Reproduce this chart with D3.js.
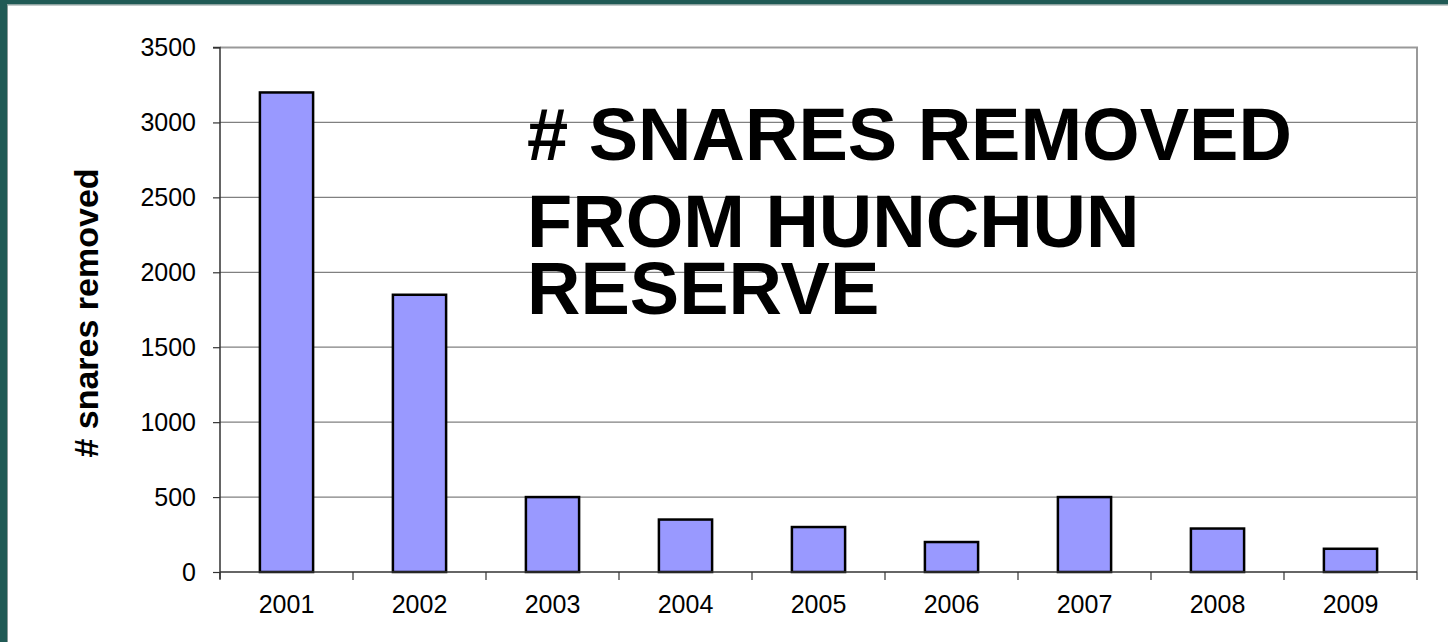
<!DOCTYPE html>
<html>
<head>
<meta charset="utf-8">
<script src="https://cdn.jsdelivr.net/npm/d3@7"></script>
<style>
html,body{margin:0;padding:0;background:#fff;}
svg{display:block;}
</style>
</head>
<body>
<script>
const years = ["2001","2002","2003","2004","2005","2006","2007","2008","2009"];
const snares = [3200, 1850, 500, 350, 300, 200, 500, 290, 155];
const yTicks = [0, 500, 1000, 1500, 2000, 2500, 3000, 3500];
const titleLines = ["# SNARES REMOVED", "FROM HUNCHUN", "RESERVE"];
const yTitle = "# snares removed";

const W = 1448, H = 642;
const svg = d3.select("body").append("svg").attr("width", W).attr("height", H);

// slide frame
svg.append("rect").attr("x",0).attr("y",0).attr("width",W).attr("height",H).attr("fill","#fff");
svg.append("rect").attr("x",0).attr("y",0).attr("width",W).attr("height",4.5).attr("fill","#205a55");
svg.append("rect").attr("x",0).attr("y",0).attr("width",7).attr("height",H).attr("fill","#205a55");
svg.append("line").attr("x1",7).attr("x2",W).attr("y1",5).attr("y2",5).attr("stroke","#8a9a98").attr("stroke-width",1);
svg.append("line").attr("x1",7.5).attr("x2",7.5).attr("y1",5).attr("y2",H).attr("stroke","#8a9a98").attr("stroke-width",1);

const pLeft = 220, pRight = 1417, pTop = 47.5, pBottom = 572;
const x = d3.scaleBand().domain(years).range([pLeft, pRight]).paddingInner(0.6).paddingOuter(0.3);
const xTick = d3.scaleBand().domain(years).range([pLeft, pRight]);
const y = d3.scaleLinear().domain([0, 3500]).range([pBottom, pTop]);
const FONT = "'Liberation Sans', Arial, sans-serif";

// gridlines
svg.append("g").selectAll("line").data(yTicks.filter(d => d > 0 && d < 3500)).join("line")
  .attr("x1", pLeft).attr("x2", pRight).attr("y1", d => y(d)).attr("y2", d => y(d))
  .attr("stroke", "#808080").attr("stroke-width", 1.2);

// plot border top & right
svg.append("path").attr("d", `M${pLeft},${pTop}H${pRight}V${pBottom}`)
  .attr("fill","none").attr("stroke","#999").attr("stroke-width",2);

// bars
svg.append("g").selectAll("rect").data(snares).join("rect")
  .attr("x", (d,i) => x(years[i]))
  .attr("width", x.bandwidth())
  .attr("y", d => y(d))
  .attr("height", d => pBottom - y(d))
  .attr("fill", "#9999ff").attr("stroke", "#000").attr("stroke-width", 2.5);

// y axis
const yAxis = d3.axisLeft(y).tickValues(yTicks).tickSize(7).tickPadding(17).tickFormat(d3.format("d"));
const gy = svg.append("g").attr("transform", `translate(${pLeft},0)`).call(yAxis);
gy.select(".domain").attr("stroke","#333").attr("stroke-width",1.5).attr("d", `M-7,${pTop}H0V${pBottom + 7}`);
gy.selectAll(".tick line").attr("stroke","#333").attr("stroke-width",1.2);
gy.selectAll(".tick text").attr("font-family",FONT).attr("font-size",25).attr("fill","#000");

// x axis
const gx = svg.append("g").attr("transform", `translate(0,${pBottom})`);
gx.append("line").attr("x1", pLeft).attr("x2", pRight).attr("y1",0).attr("y2",0).attr("stroke","#333").attr("stroke-width",1.5);
gx.selectAll("line.tk").data(years.concat(["end"])).join("line").attr("class","tk")
  .attr("x1", (d,i) => i < years.length ? xTick(d) : pRight)
  .attr("x2", (d,i) => i < years.length ? xTick(d) : pRight)
  .attr("y1", 0).attr("y2", 8).attr("stroke","#333").attr("stroke-width",1.2);
gx.selectAll("text").data(years).join("text")
  .attr("x", d => xTick(d) + xTick.bandwidth()/2).attr("y", 41)
  .attr("text-anchor","middle")
  .attr("font-family",FONT).attr("font-size",25).attr("fill","#000")
  .text(d => d);

// y title
svg.append("text").attr("transform","translate(98,313) rotate(-90)")
  .attr("text-anchor","middle")
  .attr("font-family",FONT).attr("font-weight","bold").attr("font-size",34)
  .attr("fill","#000").text(yTitle);

// chart title
const titleBaselines = [160, 247, 314];
svg.append("g").selectAll("text").data(titleLines).join("text")
  .attr("x", 527).attr("y", (d,i) => titleBaselines[i])
  .attr("font-family",FONT).attr("font-weight","bold").attr("font-size",74)
  .attr("fill","#000").text(d => d);
</script>
</body>
</html>
